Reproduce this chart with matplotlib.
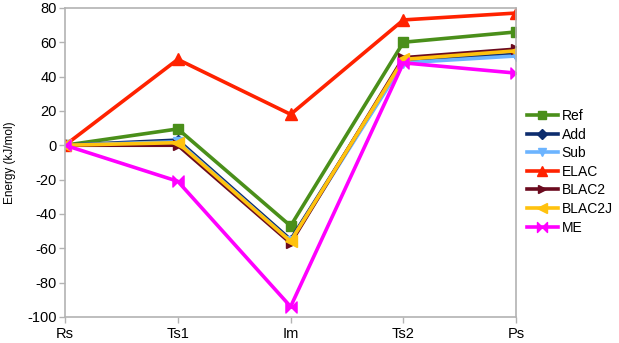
import matplotlib
matplotlib.use("Agg")
import matplotlib.pyplot as plt
from matplotlib.path import Path

categories = ["Rs", "Ts1", "Im", "Ts2", "Ps"]
ref = [0, 9.5, -47, 60, 66]
add = [0, 3, -55, 49, 53]
sub = [0, 2, -56, 48, 52]
elac = [0, 50, 18, 73, 77]
blac2 = [0, 0, -57, 51, 56]
blac2j = [0, 1.5, -56, 50, 55]
me = [0, -21, -94, 48, 42]
yticks = [-100, -80, -60, -40, -20, 0, 20, 40, 60, 80]

plt.rcParams['font.family'] = ['Liberation Sans', 'DejaVu Sans']

bowtie = Path([(-1, -1), (-1, 1), (1, -1), (1, 1), (-1, -1)],
              [Path.MOVETO, Path.LINETO, Path.LINETO, Path.LINETO, Path.CLOSEPOLY])

fig = plt.figure(figsize=(6.19, 3.43), dpi=100)
ax = fig.add_axes([0.105, 0.076, 0.729, 0.901])

x = list(range(len(categories)))
series = [
    ("Ref", ref, "#4a8f1a", "s", 7),
    ("Add", add, "#0d2d6e", "D", 5.5),
    ("Sub", sub, "#6cb4ff", "v", 7),
    ("ELAC", elac, "#ff2200", "^", 8),
    ("BLAC2", blac2, "#6b0a1e", ">", 7),
    ("BLAC2J", blac2j, "#ffc20e", "<", 8),
    ("ME", me, "#ff00ff", bowtie, 8),
]
for name, vals, col, mk, ms in series:
    ax.plot(x, vals, color=col, marker=mk, markersize=ms, linewidth=2.6,
            label=name, markeredgecolor=col, markerfacecolor=col)

ax.set_xlim(0, 4)
ax.set_ylim(-100, 80)
ax.set_xticks(x)
ax.set_xticklabels(categories, fontsize=10.5)
ax.set_yticks(yticks)
ax.set_yticklabels([str(v) for v in yticks], fontsize=10.5)
ax.set_ylabel("Energy (kJ/mol)", fontsize=8.5, labelpad=8)
for s in ax.spines.values():
    s.set_color("#b3b3b3")
    s.set_linewidth(1.2)
ax.tick_params(axis='both', color="#b3b3b3", length=4, width=1, direction='out')
ax.tick_params(axis='y', pad=2)
ax.tick_params(axis='x', pad=3)

leg = fig.legend(loc='upper left', bbox_to_anchor=(527 / 619, 1 - 109 / 343),
                 frameon=False, fontsize=10, handlelength=2.2, handletextpad=0.3,
                 labelspacing=0.33, borderaxespad=0, borderpad=0, markerscale=0.9)
fig.savefig("out.png", dpi=100)
